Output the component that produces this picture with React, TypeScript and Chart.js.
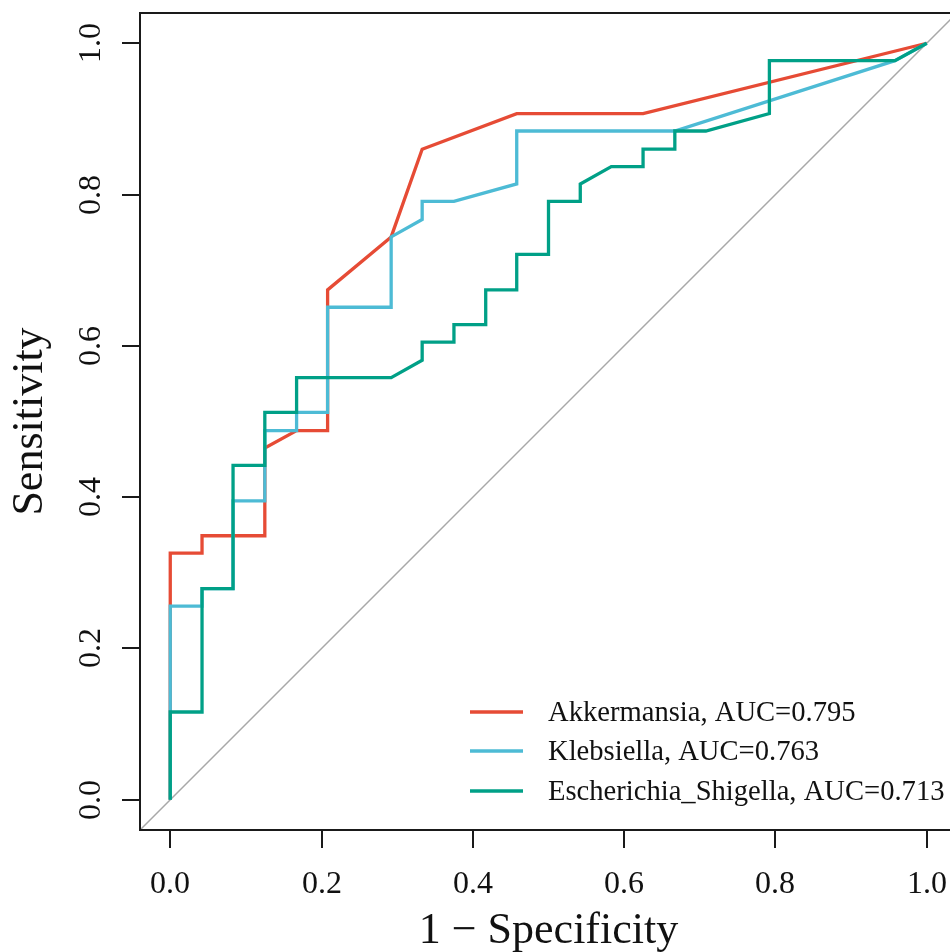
import React, { useEffect, useRef } from "react";
import { Chart, registerables } from "chart.js";

Chart.register(...registerables);

// ---- data ----
const SERIES_NAMES = ["Akkermansia", "Klebsiella", "Escherichia_Shigella"];
const AUC_VALUES = ["0.795", "0.763", "0.713"];
const SERIES_COLORS = ["#E64B35", "#4DBBD5", "#00A087"];

const AKK_FPR = [0, 0, 0.042, 0.042, 0.125, 0.125, 0.167, 0.208, 0.208, 0.292, 0.333, 0.458, 0.625, 1];
const AKK_TPR = [0, 0.326, 0.326, 0.349, 0.349, 0.465, 0.488, 0.488, 0.674, 0.744, 0.86, 0.907, 0.907, 1];

const KLE_FPR = [0, 0, 0.042, 0.042, 0.083, 0.083, 0.125, 0.125, 0.167, 0.167, 0.208, 0.208, 0.292, 0.292, 0.333, 0.333, 0.375, 0.458, 0.458, 0.667, 0.958, 1];
const KLE_TPR = [0, 0.256, 0.256, 0.279, 0.279, 0.395, 0.395, 0.488, 0.488, 0.512, 0.512, 0.651, 0.651, 0.744, 0.767, 0.791, 0.791, 0.814, 0.884, 0.884, 0.977, 1];

const ESC_FPR = [0, 0, 0.042, 0.042, 0.083, 0.083, 0.125, 0.125, 0.167, 0.167, 0.292, 0.333, 0.333, 0.375, 0.375, 0.417, 0.417, 0.458, 0.458, 0.5, 0.5, 0.542, 0.542, 0.583, 0.625, 0.625, 0.667, 0.667, 0.708, 0.792, 0.792, 0.958, 1];
const ESC_TPR = [0, 0.116, 0.116, 0.279, 0.279, 0.442, 0.442, 0.512, 0.512, 0.558, 0.558, 0.581, 0.605, 0.605, 0.628, 0.628, 0.674, 0.674, 0.721, 0.721, 0.791, 0.791, 0.814, 0.837, 0.837, 0.86, 0.86, 0.884, 0.884, 0.907, 0.977, 0.977, 1];

const DIAG_X = [-0.04, 1.04];
const DIAG_Y = [-0.04, 1.04];

const X_TICKS = [0, 0.2, 0.4, 0.6, 0.8, 1.0];
const Y_TICKS = [0, 0.2, 0.4, 0.6, 0.8, 1.0];
const X_TICK_LABELS = ["0.0", "0.2", "0.4", "0.6", "0.8", "1.0"];
const Y_TICK_LABELS = ["0.0", "0.2", "0.4", "0.6", "0.8", "1.0"];
const X_TITLE = "1 \u2212 Specificity";
const Y_TITLE = "Sensitivity";

const FONT = "'Liberation Serif', 'Times New Roman', serif";

const zip = (xs: number[], ys: number[]) => xs.map((x, i) => ({ x, y: ys[i] }));

const overlay = {
  id: "overlay",
  afterDatasetsDraw(chart: any) {
    const { ctx, chartArea: a, scales } = chart;
    const xs = scales.x;
    const ys = scales.y;
    ctx.save();
    // box
    ctx.strokeStyle = "#1a1a1a";
    ctx.lineWidth = 2;
    ctx.strokeRect(a.left, a.top, a.right - a.left, a.bottom - a.top);
    // ticks
    ctx.fillStyle = "#111";
    ctx.font = `32px ${FONT}`;
    ctx.textAlign = "center";
    ctx.textBaseline = "alphabetic";
    X_TICKS.forEach((v, i) => {
      const px = Math.round(xs.getPixelForValue(v));
      ctx.beginPath();
      ctx.moveTo(px, a.bottom);
      ctx.lineTo(px, a.bottom + 18);
      ctx.stroke();
      ctx.fillText(X_TICK_LABELS[i], px, a.bottom + 63);
    });
    Y_TICKS.forEach((v, i) => {
      const py = Math.round(ys.getPixelForValue(v));
      ctx.beginPath();
      ctx.moveTo(a.left, py);
      ctx.lineTo(a.left - 18, py);
      ctx.stroke();
      ctx.save();
      ctx.translate(a.left - 40, py);
      ctx.rotate(-Math.PI / 2);
      ctx.fillText(Y_TICK_LABELS[i], 0, 0);
      ctx.restore();
    });
    // titles
    ctx.font = `44px ${FONT}`;
    ctx.fillText(X_TITLE, (a.left + a.right) / 2, 943);
    ctx.save();
    ctx.translate(42, (a.top + a.bottom) / 2);
    ctx.rotate(-Math.PI / 2);
    ctx.fillText(Y_TITLE, 0, 0);
    ctx.restore();
    // legend
    ctx.font = `28.6px ${FONT}`;
    ctx.textAlign = "left";
    ctx.textBaseline = "middle";
    const rows = [712, 751, 791];
    SERIES_NAMES.forEach((name, i) => {
      const y = rows[i];
      ctx.strokeStyle = SERIES_COLORS[i];
      ctx.lineWidth = 3.3;
      ctx.beginPath();
      ctx.moveTo(470, y);
      ctx.lineTo(523, y);
      ctx.stroke();
      ctx.fillStyle = "#111";
      ctx.fillText(`${name}, AUC=${AUC_VALUES[i]}`, 548, y + 1);
    });
    ctx.restore();
  },
};

export default function App() {
  const ref = useRef<HTMLCanvasElement | null>(null);
  useEffect(() => {
    if (!ref.current) return;
    const chart = new Chart(ref.current, {
      type: "line",
      data: {
        datasets: [
          {
            label: "diag",
            data: zip(DIAG_X, DIAG_Y),
            borderColor: "#a8a8a8",
            borderWidth: 1.5,
            pointRadius: 0,
            order: 3,
          },
          {
            label: SERIES_NAMES[0],
            data: zip(AKK_FPR, AKK_TPR),
            borderColor: SERIES_COLORS[0],
            borderWidth: 3.3,
            pointRadius: 0,
            order: 2,
          },
          {
            label: SERIES_NAMES[1],
            data: zip(KLE_FPR, KLE_TPR),
            borderColor: SERIES_COLORS[1],
            borderWidth: 3.3,
            pointRadius: 0,
            order: 1,
          },
          {
            label: SERIES_NAMES[2],
            data: zip(ESC_FPR, ESC_TPR),
            borderColor: SERIES_COLORS[2],
            borderWidth: 3.3,
            pointRadius: 0,
            order: 0,
          },
        ],
      },
      options: {
        animation: false,
        responsive: false,
        devicePixelRatio: 1,
        parsing: false as any,
        layout: { padding: { left: 140, right: 43, top: 13, bottom: 122 } },
        elements: { line: { tension: 0, borderJoinStyle: "miter" as any, borderCapStyle: "butt" as any } },
        plugins: { legend: { display: false }, tooltip: { enabled: false } },
        scales: {
          x: { type: "linear", min: -0.04, max: 1.04, display: false },
          y: { type: "linear", min: -0.04, max: 1.04, display: false },
        },
      },
      plugins: [overlay],
    });
    return () => chart.destroy();
  }, []);
  return (
    <div style={{ position: "fixed", left: 0, top: 0, width: 950, height: 952, overflow: "hidden", background: "#fff" }}>
      <canvas ref={ref} width={1000} height={952} style={{ display: "block", width: 1000, height: 952 }} />
    </div>
  );
}
